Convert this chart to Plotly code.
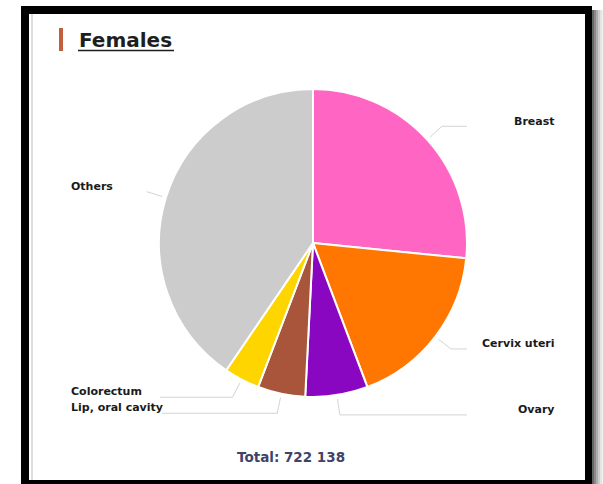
import math
import plotly.graph_objects as go

# New cancer cases among females, by site
sites = ["Breast", "Cervix uteri", "Ovary", "Lip, oral cavity", "Colorectum", "Others"]
cases = [192020, 127526, 47333, 36000, 27000, 292259]
slice_colors = ["#ff66c4", "#ff7700", "#8a07c2", "#a9553b", "#ffd500", "#cccccc"]
title_text = "Females"
total_text = "Total: 722 138"

W, H = 603, 484


def px(x):
    return x / W


def py(y):
    return 1 - y / H


# pie geometry (pixels)
CX, CY, R = 313, 243, 154

fig = go.Figure(
    go.Pie(
        labels=sites,
        values=cases,
        sort=False,
        direction="clockwise",
        rotation=0,
        marker=dict(colors=slice_colors, line=dict(color="white", width=2)),
        textinfo="none",
        hoverinfo="label+value+percent",
        domain=dict(x=[px(CX - R), px(CX + R)], y=[py(CY + R), py(CY - R)]),
        showlegend=False,
    )
)

shapes = []
annotations = []


# frame: heavy black border with a thin inner rule and a soft right shadow
def rect(x0, y0, x1, y1, color):
    shapes.append(dict(type="rect", xref="paper", yref="paper",
                       x0=px(x0), x1=px(x1), y0=py(y1), y1=py(y0),
                       fillcolor=color, line=dict(width=0), layer="below"))


for i, c in enumerate(["#666666", "#8a8a8a", "#acacac", "#cccccc", "#e4e4e4", "#f3f3f3"]):
    rect(592 + i * 2, 10, 594 + i * 2, 484, c)
rect(21, 6, 592, 14, "#000000")
rect(21, 6, 29, 484, "#000000")
rect(585, 6, 592, 484, "#000000")
rect(21, 480, 592, 484, "#000000")
rect(31, 14, 33, 480, "#dddddd")

# title with accent bar and underline
rect(59, 28, 63, 51, "#c0603f")
annotations.append(dict(text=f"<b>{title_text}</b>", xref="paper", yref="paper",
                        x=px(77), y=py(40), xanchor="left", yanchor="middle",
                        showarrow=False, font=dict(family="DejaVu Sans", size=20, color="#1e1e1e")))
shapes.append(dict(type="line", xref="paper", yref="paper",
                   x0=px(78), x1=px(174), y0=py(50.5), y1=py(50.5),
                   line=dict(color="#1e1e1e", width=1.6)))

# outside labels with elbow leader lines, placed from slice mid-angles
total = sum(cases)
right_end = 467
left_end = {"Colorectum": 160, "Lip, oral cavity": 162}
cum = 0
for site, v in zip(sites, cases):
    mid = (cum + v / 2) / total * 2 * math.pi
    cum += v
    sx, sy = CX + (R + 4) * math.sin(mid), CY - (R + 4) * math.cos(mid)
    ex, ey = CX + (R + 20) * math.sin(mid), CY - (R + 20) * math.cos(mid)
    right = math.sin(mid) > 0
    pts = [(sx, sy), (ex, ey)]
    if right:
        pts.append((right_end, ey))
    elif site in left_end:
        pts.append((left_end[site], ey))
    path = "M " + " L ".join(f"{px(x):.5f},{py(y):.5f}" for x, y in pts)
    shapes.append(dict(type="path", xref="paper", yref="paper", path=path,
                       line=dict(color="#d4d4d4", width=1)))
    annotations.append(dict(
        text=f"<b>{site}</b>", xref="paper", yref="paper",
        x=px(557) if right else px(69), y=py(ey - (5 if right else 5.5)),
        xanchor="right" if right else "left", yanchor="middle",
        showarrow=False, font=dict(family="DejaVu Sans", size=11, color="#1a1a1a")))

annotations.append(dict(text=f"<b>{total_text}</b>", xref="paper", yref="paper",
                        x=px(291), y=py(457), xanchor="center", yanchor="middle",
                        showarrow=False, font=dict(family="DejaVu Sans", size=13.5, color="#3d4466")))

fig.update_layout(
    width=W, height=H,
    margin=dict(l=0, r=0, t=0, b=0),
    paper_bgcolor="white",
    plot_bgcolor="white",
    shapes=shapes,
    annotations=annotations,
)

fig.write_html("out.html", config={"displayModeBar": False})
